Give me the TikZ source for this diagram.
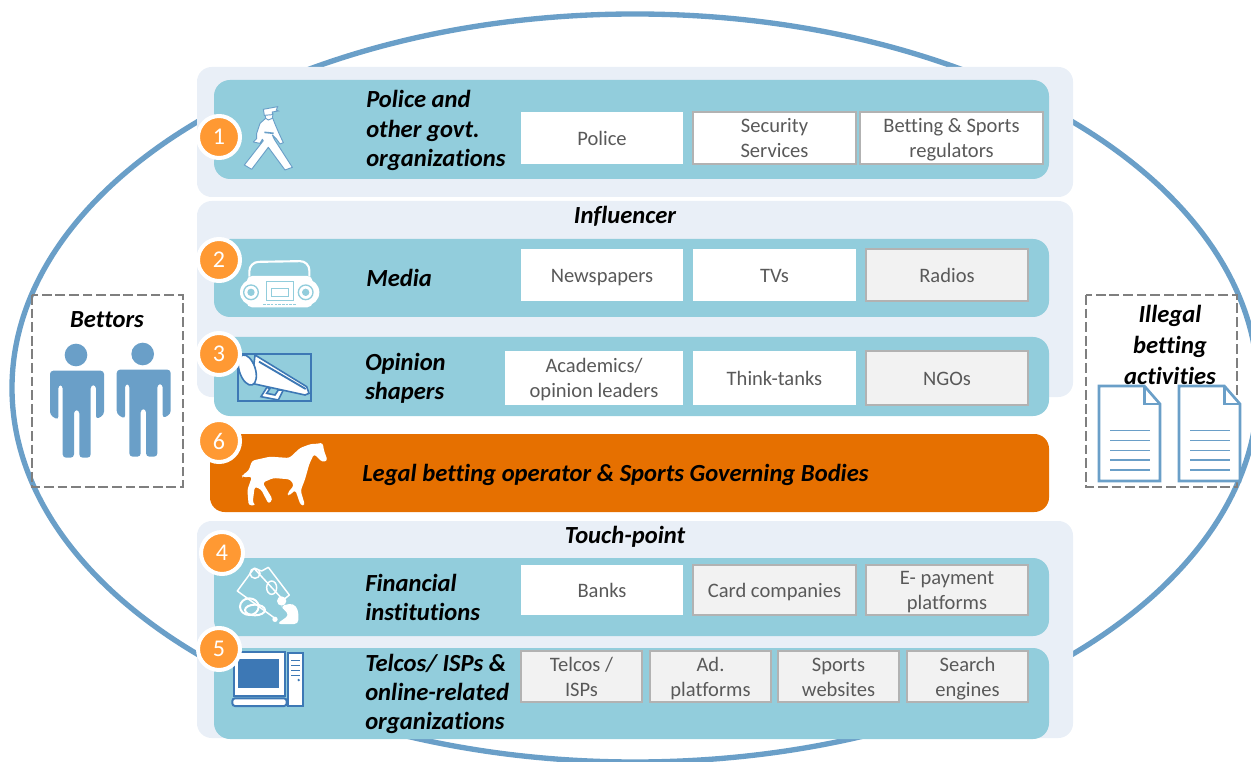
\documentclass[tikz,border=0pt]{standalone}
\usepackage{fontspec}
\setmainfont[Ligatures=NoCommon]{Carlito}
\definecolor{ringblue}{HTML}{6A9FC8}
\definecolor{panelbg}{HTML}{E9EFF7}
\definecolor{teal}{HTML}{92CDDC}
\definecolor{orangebar}{HTML}{E67000}
\definecolor{badge}{HTML}{FF9933}
\definecolor{greybox}{HTML}{F2F2F2}
\definecolor{boxtext}{HTML}{595959}
\definecolor{iconblue}{HTML}{3D78B5}
\definecolor{dashgrey}{HTML}{7F7F7F}
\tikzset{
  panel/.style={fill=panelbg,draw=none,rounded corners=11pt},
  tealbar/.style={fill=teal,draw=none,rounded corners=12pt},
  orangerow/.style={fill=orangebar,draw=none,rounded corners=11pt},
  whitebox/.style={fill=white,draw=none,text=boxtext,align=center,inner sep=0pt,font=\fontsize{15.4}{18.75}\selectfont},
  wboxb/.style={whitebox,draw=black!30,line width=1.4pt},
  greyitem/.style={whitebox,fill=greybox,draw=black!30,line width=1.4pt},
  head/.style={font=\fontsize{18.45}{22}\selectfont\bfseries\itshape,text=black,align=left,inner sep=0pt,anchor=west},
  ctitle/.style={font=\fontsize{18.45}{22}\selectfont\bfseries\itshape,text=black,align=center,inner sep=0pt},
  numbadge/.style={circle,fill=badge,draw=white,line width=3pt,text=white,minimum size=31.5pt,inner sep=0pt,font=\fontsize{18}{20}\selectfont},
  dashbox/.style={draw=dashgrey,line width=1.6pt,dash pattern=on 7.3pt off 2.9pt},
  iconw/.style={fill=white,draw=none},
  iconl/.style={draw=white,line width=1.1pt},
  iconb/.style={draw=iconblue,line width=1.2pt},
  doc/.style={draw=ringblue,line width=2pt,fill=white,line join=miter},
  docline/.style={draw=ringblue,line width=1.2pt},
  person/.style={fill=ringblue,draw=none},
}
\newcommand{\zone}[2]{\begin{scope}[shift={(#1)},x=0.25pt,y=-0.25pt]#2\end{scope}}
\begin{document}
\begin{tikzpicture}[x=0.75pt,y=-0.75pt]
\useasboundingbox (0,0) rectangle (1251,762);
\clip (0,0) rectangle (1251,762);
\draw[ringblue,line width=4pt] (635,388) ellipse [x radius=623,y radius=374];

% panels
\path[panel] (197,67) rectangle (1073,197);
\path[panel] (197,201) rectangle (1073,397);
\path[panel] (197,521) rectangle (1073,738);
% bars
\path[tealbar] (214,80) rectangle (1049,179);
\path[tealbar] (214,239) rectangle (1049,317);
\path[tealbar] (214,337) rectangle (1049,416);
\path[orangerow] (210,434) rectangle (1049,512);
\path[tealbar] (214,558) rectangle (1049,636);
\path[tealbar] (214,648) rectangle (1049,739);

% section titles
\node[ctitle] (influencer) at (625,216) {Influencer};
\node[ctitle] (touchpoint) at (625,537) {Touch-point};

% row titles
\node[head] (t1) at (366,130.5) {Police and\\other govt.\\organizations};
\node[head] (t2) at (366,278) {Media};
\node[head] (t3) at (365,378) {Opinion\\shapers};
\node[head] (t6) at (362,474.5) {Legal betting operator \& Sports Governing Bodies};
\node[head] (t4) at (365,597.5) {Financial\\institutions};
\node[head] (t5) at (365,694) {Telcos/ ISPs \&\\online-related\\organizations};

% item boxes (a tabular keeps every line on struts, so descenders do not move the text)
\newcommand{\itembox}[7]{%
  \node[#6,minimum width={(#4-#2)*0.75pt},minimum height={(#5-#3)*0.75pt}] (#1) at ({(#2+#4)/2},{(#3+#5)/2}) {\raisebox{-1.8pt}[\height][\depth]{\begin{tabular}{@{}c@{}}#7\end{tabular}}};}
\itembox{police}{521}{112}{683}{164}{whitebox}{Police}
\itembox{security}{693}{112}{856}{164}{wboxb}{Security\\Services}
\itembox{regulators}{860}{112}{1043}{164}{wboxb}{Betting \& Sports\\regulators}
\itembox{news}{521}{249}{683}{301}{whitebox}{Newspapers}
\itembox{tvs}{693}{249}{856}{301}{whitebox}{TVs}
\itembox{radios}{866}{249}{1028}{301}{greyitem}{Radios}
\itembox{academics}{505}{351}{683}{405}{whitebox}{Academics/\\opinion leaders}
\itembox{think}{693}{351}{856}{405}{whitebox}{Think-tanks}
\itembox{ngos}{866}{351}{1028}{405}{greyitem}{NGOs}
\itembox{banks}{521}{565}{683}{615}{whitebox}{Banks}
\itembox{cards}{693}{565}{856}{615}{greyitem}{Card companies}
\itembox{epay}{866}{565}{1028}{615}{greyitem}{E- payment\\platforms}
\itembox{telcos}{521}{651}{642}{702}{greyitem}{Telcos /\\ISPs}
\itembox{adplat}{650}{651}{771}{702}{greyitem}{Ad.\\platforms}
\itembox{sports}{778}{651}{899}{702}{greyitem}{Sports\\websites}
\itembox{search}{907}{651}{1028}{702}{greyitem}{Search\\engines}

% policeman
\zone{235,100}{
  \draw[fill=white,draw=ringblue,line width=.7pt,line join=round] (92,55) -- (112,52) -- (120,72) -- (132,100) -- (145,128) -- (135,132) -- (125,118) -- (112,105) -- (118,118) -- (172,202) -- (150,210) -- (100,142) -- (50,208) -- (28,195) -- (85,122) -- (82,118) -- (75,130) -- (55,126) -- (65,116) -- (65,100) -- (75,70) -- cycle;
  \draw[fill=white,draw=ringblue,line width=.7pt] (90,44) -- (114,42) -- (112,55) -- (100,60) -- (92,55) -- cycle;
  \draw[fill=white,draw=ringblue,line width=.7pt] (85,28) -- (128,20) -- (124,30) -- (130,33) -- (112,36) -- (112,44) -- (88,46) -- cycle;
  \draw[ringblue,line width=1.2pt] (88,97) -- (116,100);
}
% boombox
\zone{190,60}{
  \draw[iconl,line width=1.6pt,rounded corners=7pt] (178,650) -- (178,606) -- (358,603) -- (358,650);
  \path[iconw,rounded corners=4pt] (170,648) -- (368,648) -- (368,742) -- (170,742) -- cycle;
  \fill[white] (190,697) circle [radius=40pt*.25];
  \fill[white] (348,697) circle [radius=40pt*.25];
  \draw[teal,line width=1pt] (183,697) circle [radius=22pt*0.25];
  \fill[teal] (183,697) circle [radius=11pt*0.25];
  \draw[teal,line width=1pt] (347,697) circle [radius=22pt*0.25];
  \fill[teal] (347,697) circle [radius=11pt*0.25];
  \draw[teal,line width=1pt] (230,665) rectangle (310,722);
  \draw[teal,line width=.5pt] (245,685) rectangle (295,708);
  \draw[teal,line width=1pt,dash pattern=on 2pt off .8pt] (220,734) -- (318,734);
}
% megaphone
\zone{235,345}{
  \draw[iconb,line width=1.5pt] (8,27) rectangle (228,167);
  \draw[iconb,fill=white] (95,128) -- (78,155) -- (130,165) -- (145,135) -- (130,135) -- (120,150) -- (95,145) -- (105,130) -- cycle;
  \draw[iconb,fill=white] (60,30) -- (215,125) -- (222,145) -- (210,150) -- (50,115) -- cycle;
  \draw[iconb,line width=1.4pt] (72,50) -- (212,132);
  \draw[iconb,fill=white,rotate around={18:(37,75)}] (37,75) ellipse [x radius=24pt*.25,y radius=47pt*.25];
}
% horse
\zone{190,330}{
  \path[iconw,rounded corners=2pt] (385,341) -- (398,338) -- (402,362) -- (413,392) -- (396,396) -- (372,372) -- (358,402) -- (345,448) -- (332,482) -- (345,526) -- (332,526) -- (316,480) -- (296,498) -- (292,490) -- (312,466) -- (300,448) -- (250,444) -- (218,458) -- (248,508) -- (236,522) -- (213,478) -- (194,470) -- (188,518) -- (197,526) -- (176,526) -- (172,480) -- (186,440) -- (158,442) -- (156,436) -- (176,422) -- (186,392) -- (240,380) -- (298,384) -- (330,354) -- (362,342) -- cycle;
}
% cards and coins
\zone{230,535}{
  \draw[iconl,line join=round] (135,250) -- (22,168) -- (72,100) -- (95,108) -- (115,97) -- (178,180) -- (160,195);
  \draw[iconl] (72,100) -- (155,190);
  \draw[iconl] (75,115) circle [radius=15pt*.25];
  \draw[iconl] (125,158) ellipse [x radius=15pt*.25,y radius=20pt*.25];
  \draw[iconl,line width=1.5pt] (58,215) ellipse [x radius=28pt*.25,y radius=25pt*.25];
  \draw[iconl,line width=1.5pt] (75,225) ellipse [x radius=30pt*.25,y radius=16pt*.25];
  \path[iconw] (155,198) circle [radius=14pt*.25];
  \path[iconw,rounded corners=3pt] (152,212) -- (190,205) -- (205,225) -- (205,267) -- (140,267) -- (178,240) -- (160,222) -- cycle;
  \path[iconw] (135,253) circle [radius=8pt*.25];
}
% computer
\zone{190,520}{
  \draw[iconb,fill=white,line width=1.5pt] (133,397) rectangle (285,527);
  \fill[iconblue] (145,417) rectangle (268,505);
  \draw[iconb,fill=white,line width=1.5pt] (293,400) rectangle (340,558);
  \foreach \yy in {422,437,452,466} \draw[iconb] (303,\yy) -- (330,\yy);
  \fill[iconblue] (326,480) circle [radius=4pt*.25];
  \draw[iconb,fill=white,line width=1.5pt,rounded corners=2pt] (127,535) rectangle (290,558);
}

% badges
\node[numbadge] (b1) at (219,137) {1};
\node[numbadge] (b2) at (219,260) {2};
\node[numbadge] (b3) at (219,354) {3};
\node[numbadge] (b6) at (219,441) {6};
\node[numbadge] (b4) at (222,553) {4};
\node[numbadge] (b5) at (219,649) {5};

% bettors
\draw[dashbox] (32,295) rectangle (183,487);
\node[ctitle] (bettors) at (107,320) {Bettors};
\newcommand{\personicon}[1]{\zone{#1}{
  \fill[person] (228,225) circle [radius=34pt*.25];
  \path[person,rounded corners=2.5pt] (150,272) -- (312,272) -- (312,405) -- (288,418) -- (288,315) -- (272,315) -- (272,533) -- (238,533) -- (238,390) -- (222,390) -- (222,533) -- (188,533) -- (188,315) -- (175,315) -- (175,420) -- (150,405) -- cycle;
}}
\personicon{0,280}
\personicon{66.7,279}

% illegal activities
\draw[dashbox] (1086,295) rectangle (1237,487);
\node[ctitle] (illegal) at (1170,345) {Illegal\\[1.0pt]betting\\[1.0pt]activities};
\newcommand{\docicon}[1]{\zone{#1}{
  \path[doc] (147,318) -- (283,318) -- (330,372) -- (330,603) -- (147,603) -- cycle;
  \draw[doc,fill=none] (283,318) -- (283,372) -- (330,372);
  \foreach \yy in {452,482,512,540,570} \draw[docline] (180,\yy) -- (300,\yy);
}}
\docicon{1050,280}
\docicon{1130,280}
\end{tikzpicture}
\end{document}
